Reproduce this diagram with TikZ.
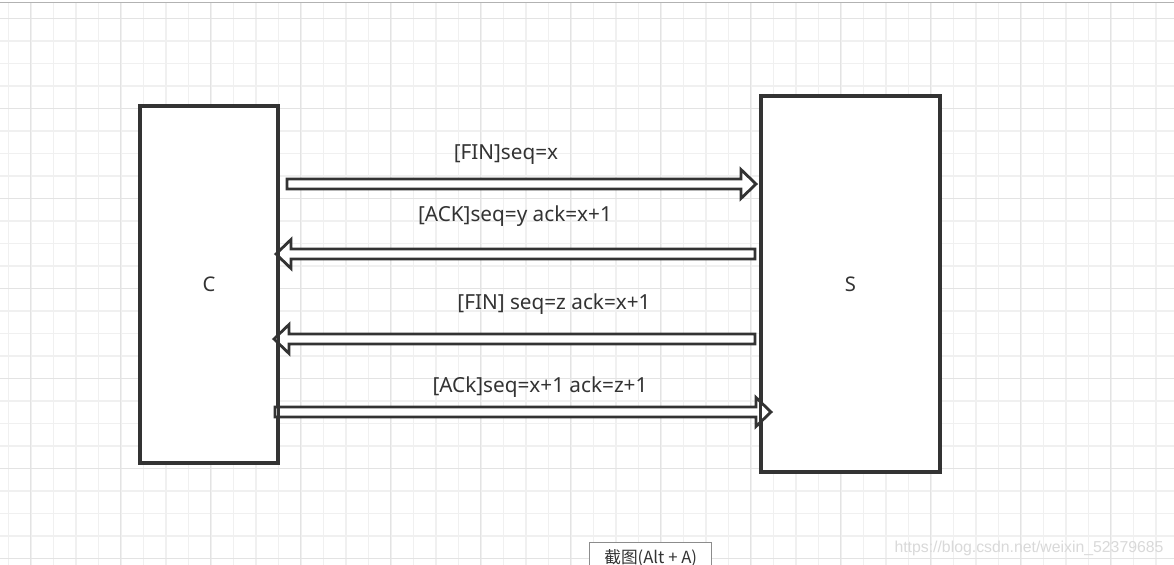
\documentclass[tikz,border=0pt]{standalone}
\usepackage{fontspec}
\setmainfont{Noto Sans}
\newfontfamily\cjk{Noto Sans CJK SC}
\newfontfamily\wmfont{Liberation Sans}
\usetikzlibrary{calc}

\definecolor{linegray}{HTML}{333333}
\definecolor{gridminor}{HTML}{F0F0F0}
\definecolor{gridmajor}{HTML}{E3E3E3}

\begin{document}
\begin{tikzpicture}[x=0.02cm, y=-0.02cm,
    hostbox/.style={draw=linegray, line width=1.5pt, fill=white, inner sep=0pt,
        font=\fontsize{11.5}{13}\selectfont, text=linegray},
    msg/.style={font=\fontsize{11.8}{14}\selectfont, text=linegray, inner sep=1pt},
    fat/.style={draw=linegray, line width=1.6pt, fill=white, line join=miter,
        to path={let \p1=(\tikztostart), \p2=(\tikztotarget),
            \n1={ifthenelse(\x2>\x1,1,-1)} in
            (\x1,\y1+2.8pt) -- (\x2-\n1*8.5pt,\y1+2.8pt) -- (\x2-\n1*8.5pt,\y1+8.2pt)
            -- (\x2,\y1) -- (\x2-\n1*8.5pt,\y1-8.2pt) -- (\x2-\n1*8.5pt,\y1-2.8pt)
            -- (\x1,\y1-2.8pt) -- cycle}}
    ]
    \useasboundingbox[fill=white] (0,0) rectangle (1174,565);

    % grid
    \foreach \gx in {8.5,31,...,1174}
        \draw[gridminor, line width=0.9pt] (\gx,2) -- (\gx,565);
    \foreach \gy in {18.5,41,...,565}
        \draw[gridminor, line width=0.9pt] (0,\gy) -- (1174,\gy);
    \foreach \gx in {30.5,120.5,...,1174}
        \draw[gridmajor, line width=1pt] (\gx,2) -- (\gx,565);
    \foreach \gy in {18.5,108.5,...,565}
        \draw[gridmajor, line width=1pt] (0,\gy) -- (1174,\gy);
    \draw[black!30, line width=1pt] (0,2.5) -- (1174,2.5);

    % hosts
    \node[hostbox, minimum width=2.72cm, minimum height=7.1cm] (C) at (209,284.5) {C};
    \node[hostbox, minimum width=3.54cm, minimum height=7.48cm] (S) at (850.5,284) {S};

    % arrow ends
    \coordinate (fin1s) at (287,184);
    \coordinate (fin1e) at (756,184);
    \coordinate (ack1s) at (755,254);
    \coordinate (ack1e) at (276,254);
    \coordinate (fin2s) at (755,339);
    \coordinate (fin2e) at (274,339);
    \coordinate (ack2s) at (275,412);
    \coordinate (ack2e) at (771,412);

    \draw[fat] (fin1s) to (fin1e);
    \draw[fat] (ack1s) to (ack1e);
    \draw[fat] (fin2s) to (fin2e);
    \draw[fat] (ack2s) to (ack2e);

    % host borders over the arrow heads
    \draw[linegray, line width=1.5pt] (C.north west) rectangle (C.south east);
    \draw[linegray, line width=1.5pt] (S.north west) rectangle (S.south east);

    % labels
    \node[msg] (l1) at (506,155) {[FIN]seq=x};
    \node[msg] (l2) at (515,216) {[ACK]seq=y ack=x+1};
    \node[msg] (l3) at (554,304) {[FIN] seq=z ack=x+1};
    \node[msg] (l4) at (540,387) {[ACk]seq=x+1 ack=z+1};

    % screen overlays
    \node[draw=black!45, fill=white, line width=0.8pt, inner sep=2pt,
        minimum width=2.44cm, minimum height=0.6cm, anchor=north west,
        font=\fontsize{9.5}{11}\selectfont, text=linegray] (tip) at (589,542)
        {\cjk 截图(Alt + A)};
    \node[font=\wmfont\fontsize{9}{11}\selectfont, text=black!15, inner sep=0pt]
        (mark) at (1029,548) {https://blog.csdn.net/weixin\_52379685};
\end{tikzpicture}
\end{document}
